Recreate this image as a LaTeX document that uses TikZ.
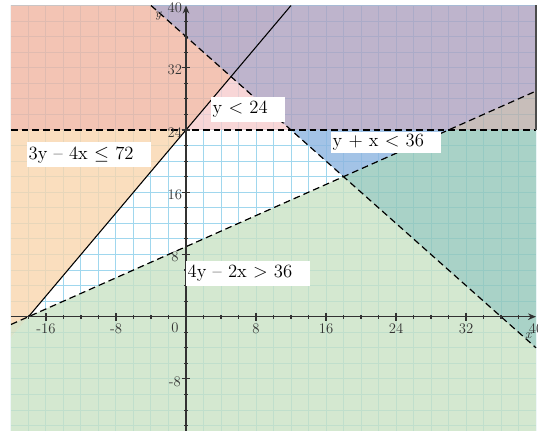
\documentclass[tikz,border=0pt]{standalone}
\usetikzlibrary{arrows.meta}
\definecolor{cpeach}{RGB}{249,214,174}
\definecolor{csalmon}{RGB}{240,181,161}
\definecolor{cpink}{RGB}{246,204,205}
\definecolor{cpurple}{RGB}{174,161,191}
\definecolor{copb}{RGB}{172,158,188}
\definecolor{cblue}{RGB}{140,180,224}
\definecolor{cteal}{RGB}{148,199,185}
\definecolor{cgreen}{RGB}{201,226,196}
\definecolor{cgb}{RGB}{186,174,169}
\definecolor{cog}{RGB}{209,219,186}
\definecolor{cgrid}{RGB}{160,215,238}
\definecolor{caxis}{RGB}{50,50,50}
\begin{document}
\begin{tikzpicture}[x=6.5625pt,y=5.835pt,
  region/.style={fill opacity=0.8},
  gridline/.style={cgrid,line width=0.75pt},
  bound/.style={black,line width=0.9pt,dash pattern=on 5pt off 3pt},
  solidbound/.style={black,line width=0.8pt},
  axisline/.style={caxis,line width=1pt},
  ticklabel/.style={font=\fontsize{11}{12}\selectfont,inner sep=0pt,text=caxis},
  lbl/.style={fill=white,inner xsep=1.5pt,inner ysep=0pt,align=left,
    font=\fontsize{14}{16}\selectfont}]
\useasboundingbox (-21.257,-14.69) rectangle (40.229,40.707);
% key points
\coordinate (P1) at (-18,0);
\coordinate (P2) at (12,40);
\coordinate (Q1) at (-20,-1);
\coordinate (Q2) at (40,29);
\coordinate (R1) at (-20,24);
\coordinate (R2) at (40,24);
\coordinate (S1) at (-4,40);
\coordinate (S2) at (40,-4);
\coordinate (X1) at (5.142857,30.857143);
\coordinate (X2) at (12,24);
\coordinate (X3) at (18,18);
\coordinate (X4) at (30,24);
\coordinate (X5) at (0,24);
\coordinate (E1) at (-20,-2.666667);
\coordinate (C1) at (-20,-15);
\coordinate (C2) at (40,-15);
\coordinate (C3) at (40,40);
\coordinate (C4) at (-20,40);
\begin{scope}
\clip (-20,-14.69) rectangle (40,40);
% grid
\foreach \i in {-20,-18,...,40} \draw[gridline] (\i,-16) -- (\i,40);
\foreach \j in {-14,-12,...,40} \draw[gridline] (-20,\j) -- (40,\j);
% regions
\fill[cpeach,region] (Q1) -- (P1) -- (X5) -- (R1) -- cycle;
\fill[cog,region] (E1) -- (P1) -- (Q1) -- cycle;
\fill[cgreen,region] (C1) -- (E1) -- (P1) -- (X3) -- (S2) -- (C2) -- cycle;
\fill[cteal,region] (X3) -- (X4) -- (R2) -- (S2) -- cycle;
\fill[cgb,region] (X4) -- (Q2) -- (R2) -- cycle;
\fill[cblue,region] (X2) -- (X3) -- (X4) -- cycle;
\fill[cpink,region] (X5) -- (X1) -- (X2) -- cycle;
\fill[csalmon,region] (R1) -- (X5) -- (X1) -- (S1) -- (C4) -- cycle;
\fill[cpurple,region] (X1) -- (P2) -- (C3) -- (Q2) -- (X4) -- (X2) -- cycle;
\fill[copb,region] (S1) -- (X1) -- (P2) -- cycle;
\end{scope}
% boundary lines
\draw[bound] (Q1) -- (Q2);
\draw[bound] (R1) -- (R2);
\draw[bound] (S1) -- (S2);
\draw[solidbound] (P1) -- (P2);
\draw[gray!60!black,line width=0.8pt] (R2) -- (C3);
% axes
\coordinate (XA) at (-20,0);
\coordinate (XB) at (40,0);
\coordinate (YA) at (0,-15);
\coordinate (YB) at (0,40);
\draw[axisline,-{Stealth[length=6pt,width=5pt]}] (XA) -- (XB);
\draw[axisline,-{Stealth[length=6pt,width=5pt]}] (YA) -- (YB);
\foreach \i in {-18,-14,-12,-10,-6,-4,-2,2,4,6,10,12,14,18,20,22,26,28,30,34,36,38}
  \draw[axisline,line width=0.8pt] (\i,0) ++(0,-1.6pt) -- ++(0,3.2pt);
\foreach \i in {-16,-8,8,16,24,32}
  \draw[axisline,line width=0.8pt] (\i,0) ++(0,-3pt) -- ++(0,6pt);
\foreach \j in {-14,-12,-10,-6,-4,-2,2,4,6,10,12,14,18,20,22,26,28,30,34,36,38}
  \draw[axisline,line width=0.8pt] (0,\j) ++(-1.6pt,0) -- ++(3.2pt,0);
\foreach \j in {-8,8,16,24,32}
  \draw[axisline,line width=0.8pt] (0,\j) ++(-3pt,0) -- ++(6pt,0);
% tick labels
\foreach \i in {-16,-8,8,16,24,32,40}
  \node[ticklabel,yshift=-9pt] (xl\i) at (\i,0) {\i};
\foreach \j in {-8,8,16,24,32,40}
  \node[ticklabel,xshift=-8.3pt,yshift=-1.9pt] (yl\j) at (0,\j) {\j};
\node[ticklabel,xshift=-8.3pt,yshift=-8.5pt] (zero) at (0,0) {0};
\node[font=\fontsize{10}{12}\selectfont\itshape,text=caxis,inner sep=0pt] (ylab) at (-3.2,38.65) {y};
\node[font=\fontsize{10}{12}\selectfont\itshape,text=caxis,inner sep=0pt] (xlab) at (39.12,-2.45) {x};
% inequality labels
\node[lbl,text width=52.5pt,minimum height=18.75pt] (l1) at (7.05,26.67) {y $<$ 24};
\node[lbl,text width=90pt,minimum height=18.75pt] (l2) at (-11.12,20.81) {3y \textendash{} 4x $\leq$ 72};
\node[lbl,text width=79.5pt,minimum height=15.75pt] (l3) at (22.82,22.43) {y + x $<$ 36};
\node[lbl,text width=90pt,minimum height=18.75pt] (l4) at (7.05,5.59) {4y \textendash{} 2x $>$ 36};
\end{tikzpicture}
\end{document}
